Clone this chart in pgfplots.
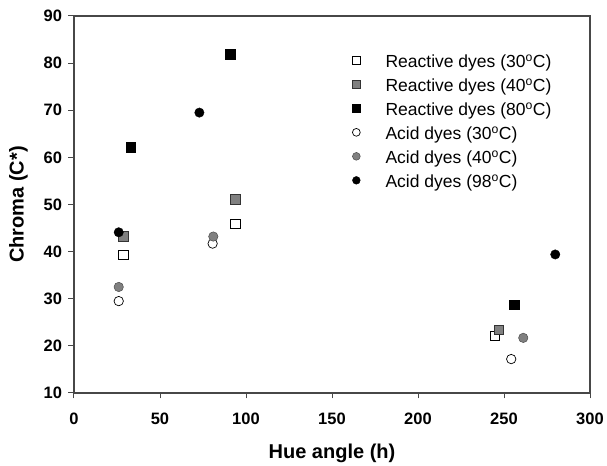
\documentclass[border=0pt]{standalone}
\usepackage{fontspec}
\setmainfont{Liberation Sans}
\usepackage{pgfplots}
\pgfplotsset{compat=1.18}
\begin{document}
\begin{tikzpicture}
\begin{axis}[
  width=516pt, height=377pt, scale only axis,
  xmin=0, xmax=300, ymin=10, ymax=90,
  xtick={0,50,...,300}, ytick={10,20,...,90},
  tick align=outside, xtick pos=bottom, ytick pos=left,
  major tick length=5.5pt,
  axis line style={draw=black!72, line width=1.1pt},
  tick style={black!72, line width=1pt},
  /pgf/number format/assume math mode=true,
  tick label style={font=\fontsize{16.5}{18}\selectfont\bfseries},
  xticklabel style={yshift=-11pt},
  yticklabel style={xshift=-3pt},
  xlabel={Hue angle (h)}, ylabel={Chroma (C*)},
  label style={font=\fontsize{20}{22}\selectfont\bfseries},
  xlabel style={yshift=-12pt},
  ylabel style={yshift=9pt},
  legend style={draw=none, fill=none, at={(axis cs:161.6,81.8)}, anchor=north west,
    font=\fontsize{17.5}{19}\selectfont, row sep=8pt, inner sep=0pt,
    nodes={inner sep=0pt, text height=12.5pt, text depth=3.5pt}},
  legend cell align=left,
  legend image code/.code={\draw[#1, mark size=3.9pt] plot coordinates {(0pt,2.5pt)}; \path (-4pt,0pt) (29pt,0pt);},
]
\addplot[only marks, mark=square*, mark size=4.8pt, mark options={fill=white, draw=black, line width=0.7pt}]
  coordinates {(28.7,39.3) (93.8,45.9) (244.6,22.1)};
\addlegendentry{Reactive dyes (30$^{\mathrm{o}}$C)}
\addplot[only marks, mark=square*, mark size=4.8pt, mark options={fill=gray, draw=black!80, line width=0.7pt}]
  coordinates {(28.7,43.3) (93.8,51.1) (247.1,23.4)};
\addlegendentry{Reactive dyes (40$^{\mathrm{o}}$C)}
\addplot[only marks, mark=square*, mark size=4.8pt, mark options={fill=black, draw=black}]
  coordinates {(33.0,62.1) (90.7,81.9) (256.0,28.7)};
\addlegendentry{Reactive dyes (80$^{\mathrm{o}}$C)}
\addplot[only marks, mark=*, mark size=4.7pt, mark options={fill=white, draw=black, line width=0.7pt}]
  coordinates {(26.0,29.5) (80.6,41.7) (254.2,17.2)};
\addlegendentry{Acid dyes (30$^{\mathrm{o}}$C)}
\addplot[only marks, mark=*, mark size=4.7pt, mark options={fill=gray, draw=black!70, line width=0.5pt}]
  coordinates {(26.0,32.5) (81.0,43.2) (261.2,21.7)};
\addlegendentry{Acid dyes (40$^{\mathrm{o}}$C)}
\addplot[only marks, mark=*, mark size=4.7pt, mark options={fill=black, draw=black}]
  coordinates {(26.0,44.1) (72.9,69.5) (279.8,39.4)};
\addlegendentry{Acid dyes (98$^{\mathrm{o}}$C)}
\coordinate (ll) at (rel axis cs:0,0);
\coordinate (ur) at (rel axis cs:1,1);
\end{axis}
\pgfresetboundingbox
\path (ll) ++(-74pt,-73pt) coordinate (a);
\path (ur) ++(17pt,16pt) coordinate (b);
\path (a) rectangle (b);
\end{tikzpicture}
\end{document}
